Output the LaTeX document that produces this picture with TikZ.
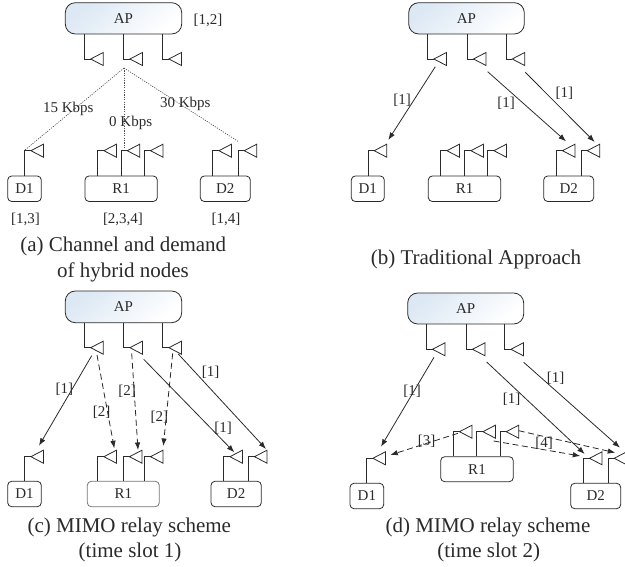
\documentclass[tikz,border=0pt]{standalone}
\usepackage{fontspec}
\setmainfont{Liberation Serif}
\usetikzlibrary{arrows.meta,calc}
\definecolor{ink}{HTML}{2A2A2A}
\definecolor{aptint}{HTML}{DCE8F4}
\tikzset{
  box/.style={draw=ink,line width=.8pt,rounded corners=4pt,inner sep=0pt,text=ink,font=\fontsize{15}{17}\selectfont},
  apbox/.style={box,rounded corners=10pt,top color=aptint,bottom color=white,shading angle=40},
  paleBox/.style={box,draw=ink!65},
  wire/.style={draw=ink,line width=.8pt},
  tri/.style={draw=ink,line width=.8pt,line join=miter},
  lab/.style={text=ink,inner sep=0pt,font=\fontsize{15}{17}\selectfont},
  captext/.style={text=ink,inner sep=0pt,font=\fontsize{21}{24}\selectfont},
  solidlink/.style={draw=ink,line width=.8pt,-{Latex[length=7.5pt,width=5.5pt]}},
  dashlink/.style={solidlink,dash pattern=on 6pt off 3.5pt},
  dotlink/.style={draw=ink!85,line width=.6pt,dash pattern=on 1.2pt off 1.2pt}
}
% box: style, name, x1, y1, x2, y2, text
\newcommand{\bx}[7]{\node[#1,minimum width={(#5-#3)*1pt},minimum height={(#6-#4)*1pt}] (#2) at ({(#3+#5)/2},{(#4+#6)/2}) {#7};}
% antenna: box anchor, id, x, y
\newcommand{\ant}[4]{\coordinate (#2) at (#3,#4);
  \draw[wire] (#1 -| #2) -- (#2) -- ++(6.2,0);
  \draw[tri] ($(#2)+(6.2,0)$) -- ++(12.5,-6.5) -- ++(0,13) -- cycle;}
% link: style, from id, from pos, to id, to pos
\newcommand{\lnk}[5]{\coordinate (#2) at (#3); \coordinate (#4) at (#5); \draw[#1] (#2) -- (#4);}
\begin{document}
\begin{tikzpicture}[x=1pt,y=-1pt]
\useasboundingbox (0,0) rectangle (625,567);
% ---------- (a)
\bx{apbox}{aAP}{65.3}{2.7}{181.7}{34}{AP}
\bx{box}{aD1}{7.7}{176}{41.3}{201.5}{D1}
\bx{box}{aR1}{85}{176}{157.3}{201.5}{R1}
\bx{box}{aD2}{200.3}{176}{250.3}{201.5}{D2}
\ant{aAP.south}{aa1}{84.5}{59}
\ant{aAP.south}{aa2}{123.7}{59}
\ant{aAP.south}{aa3}{162.7}{59}
\ant{aD1.north}{ad1}{24.7}{150.7}
\ant{aR1.north}{ar1}{97.7}{150.7}
\ant{aR1.north}{ar2}{121}{150.7}
\ant{aR1.north}{ar3}{144.3}{150.7}
\ant{aD2.north}{ae1}{212.7}{150.7}
\ant{aD2.north}{ae2}{238}{150.7}
\lnk{dotlink}{ahubA}{124,68}{adA}{25,150}
\lnk{dotlink}{ahubB}{124,68}{arA}{124,148}
\lnk{dotlink}{ahubC}{124,68}{aeA}{239,142}
\node[lab] (l1) at (68.3,108.7) {15 Kbps};
\node[lab] (l2) at (130.7,123) {0 Kbps};
\node[lab] (l3) at (185.3,104) {30 Kbps};
\node[lab] (l4) at (208,20) {[1,2]};
\node[lab] (l5) at (25.5,219) {[1,3]};
\node[lab] (l6) at (123,219) {[2,3,4]};
\node[lab] (l7) at (226,219) {[1,4]};
\node[captext] (c1) at (123.3,246) {(a) Channel and demand};
\node[captext] (c2) at (123,272) {of hybrid nodes};
% ---------- (b)
\bx{apbox}{bAP}{408.7}{2.7}{524.3}{34}{AP}
\bx{box}{bD1}{351.3}{176}{384.3}{201.5}{D1}
\bx{box}{bR1}{428.3}{176}{500.7}{201.5}{R1}
\bx{box}{bD2}{543.7}{176}{593.7}{201.5}{D2}
\ant{bAP.south}{ba1}{427.7}{59}
\ant{bAP.south}{ba2}{467.3}{59}
\ant{bAP.south}{ba3}{506}{59}
\ant{bD1.north}{bd1}{368}{150.7}
\ant{bR1.north}{br1}{440.7}{150.7}
\ant{bR1.north}{br2}{464.7}{150.7}
\ant{bR1.north}{br3}{487.7}{150.7}
\ant{bD2.north}{be1}{556.3}{150.7}
\ant{bD2.north}{be2}{581}{150.7}
\lnk{solidlink}{bs1}{435.3,66.7}{bt1}{388.3,140}
\lnk{solidlink}{bs2}{487.7,71.7}{bt2}{566,141.3}
\lnk{solidlink}{bs3}{525.3,72.3}{bt3}{594.7,142}
\node[lab] (l8) at (402,100.7) {[1]};
\node[lab] (l9) at (506,103.7) {[1]};
\node[lab] (l10) at (564.3,93.7) {[1]};
\node[captext] (c3) at (476,259) {(b) Traditional Approach};
% ---------- (c)
\bx{apbox}{cAP}{65.3}{291}{181.7}{322.7}{AP}
\bx{box}{cD1}{7.7}{481.3}{41.3}{506.7}{D1}
\bx{paleBox}{cR1}{87.3}{481.3}{159.3}{506.7}{R1}
\bx{box}{cD2}{211}{481.3}{261.3}{506.7}{D2}
\ant{cAP.south}{ca1}{84.5}{347.7}
\ant{cAP.south}{ca2}{123.7}{347.7}
\ant{cAP.south}{ca3}{162.7}{347.7}
\ant{cD1.north}{cd1}{24.7}{456.7}
\ant{cR1.north}{cr1}{97.7}{456.7}
\ant{cR1.north}{cr2}{123.3}{456.7}
\ant{cR1.north}{cr3}{144.3}{456.7}
\ant{cD2.north}{ce1}{223.7}{456.7}
\ant{cD2.north}{ce2}{248.3}{456.7}
\lnk{solidlink}{cs1}{91.7,355.7}{ct1}{39,445.7}
\lnk{solidlink}{cs2}{143.7,359.3}{ct2}{234.3,452.3}
\lnk{solidlink}{cs3}{178.3,354}{ct3}{266,449}
\lnk{dashlink}{cs4}{97,355}{ct4}{114.3,448.3}
\lnk{dashlink}{cs5}{131.7,353.3}{ct5}{138,450}
\lnk{dashlink}{cs6}{172.7,353.3}{ct6}{163.3,446}
\node[lab] (l11) at (64.3,389.3) {[1]};
\node[lab] (l12) at (101.7,412.7) {[2]};
\node[lab] (l13) at (127,391.3) {[2]};
\node[lab] (l14) at (159.3,417.3) {[2]};
\node[lab] (l15) at (223,428.3) {[1]};
\node[lab] (l16) at (210.7,372.7) {[1]};
\node[captext] (c4) at (129.3,527.7) {(c) MIMO relay scheme};
\node[captext] (c5) at (130,552.7) {(time slot 1)};
% ---------- (d)
\bx{apbox}{dAP}{407.7}{293}{523.7}{324}{AP}
\bx{box}{dD1}{350}{483.3}{383.7}{508.7}{D1}
\bx{box}{dR1}{440.7}{456.7}{513.3}{481.7}{R1}
\bx{box}{dD2}{570.7}{483.3}{620.7}{508.7}{D2}
\ant{dAP.south}{da1}{426.3}{349.3}
\ant{dAP.south}{da2}{466.3}{349.3}
\ant{dAP.south}{da3}{504.7}{349.3}
\ant{dD1.north}{dd1}{366.7}{458.3}
\ant{dR1.north}{dr1}{453.3}{431.7}
\ant{dR1.north}{dr2}{476.7}{431.7}
\ant{dR1.north}{dr3}{500}{431.7}
\ant{dD2.north}{de1}{583.3}{458.3}
\ant{dD2.north}{de2}{608}{458.3}
\lnk{solidlink}{ds1}{434,357.3}{dt1}{381,446.7}
\lnk{solidlink}{ds2}{486.7,362}{dt2}{584.7,454}
\lnk{solidlink}{ds3}{523.7,362.3}{dt3}{620,447.7}
\lnk{dashlink}{ds4}{458,433.3}{dt4}{390.3,455}
\lnk{dashlink}{ds5}{493.7,441}{dt5}{580.3,456}
\lnk{dashlink}{ds6}{518.7,430.7}{dt6}{615.3,452.7}
\node[lab] (l17) at (412,391.7) {[1]};
\node[lab] (l18) at (511.7,399.3) {[1]};
\node[lab] (l19) at (555.7,378.3) {[1]};
\node[lab] (l20) at (426.7,441.3) {[3]};
\node[lab] (l21) at (544,443.3) {[4]};
\node[captext] (c6) at (488,527.7) {(d) MIMO relay scheme};
\node[captext] (c7) at (488.7,552.7) {(time slot 2)};
\end{tikzpicture}
\end{document}
